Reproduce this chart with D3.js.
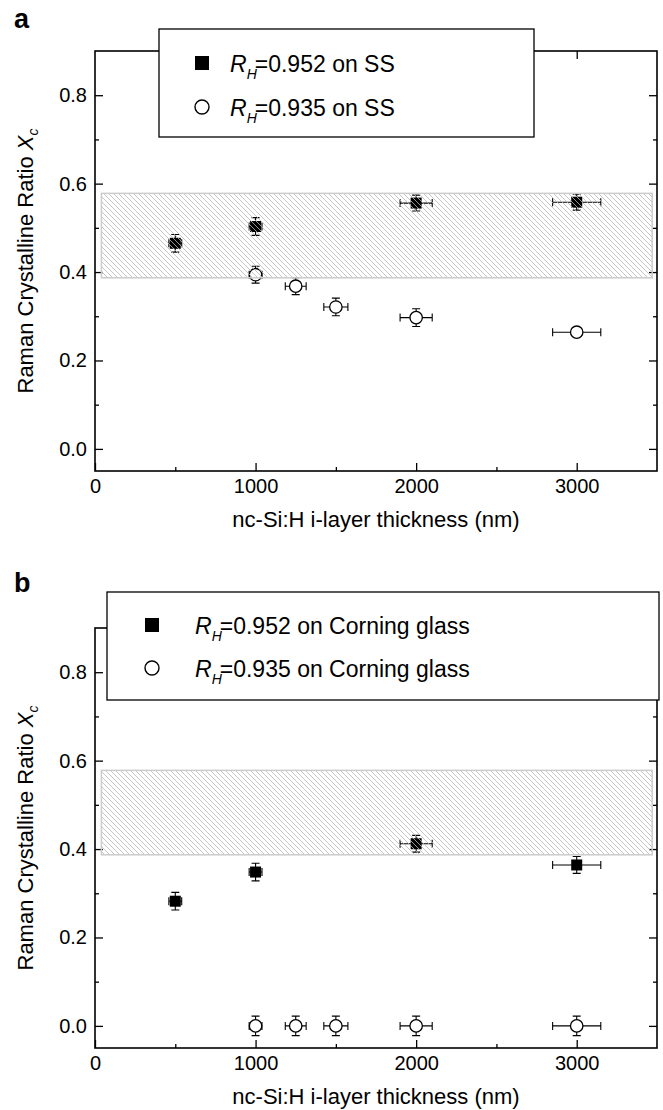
<!doctype html>
<html>
<head>
<meta charset="utf-8">
<title>Raman crystalline ratio</title>
<script src="https://d3js.org/d3.v7.min.js"></script>
<style>
  body { margin: 0; background: #fff; }
  svg text { font-family: "Liberation Sans", Arial, Helvetica, sans-serif; fill: #000; }
</style>
</head>
<body>
<script>
// panel a: stainless steel substrate
var ssHighX    = [500, 1000, 2000, 3000];
var ssHighY    = [0.465, 0.503, 0.556, 0.558];
var ssHighXErr = [40, 40, 100, 150];
var ssHighYErr = [0.02, 0.02, 0.018, 0.018];

var ssLowX    = [1000, 1250, 1500, 2000, 3000];
var ssLowY    = [0.394, 0.368, 0.321, 0.297, 0.264];
var ssLowXErr = [40, 65, 75, 100, 150];
var ssLowYErr = [0.019, 0.019, 0.02, 0.02, 0.004];

// panel b: Corning glass substrate
var cgHighX    = [500, 1000, 2000, 3000];
var cgHighY    = [0.282, 0.348, 0.412, 0.364];
var cgHighXErr = [40, 40, 100, 150];
var cgHighYErr = [0.02, 0.02, 0.019, 0.019];

var cgLowX    = [1000, 1250, 1500, 2000, 3000];
var cgLowY    = [0, 0, 0, 0, 0];
var cgLowXErr = [40, 65, 75, 100, 150];
var cgLowYErr = [0.022, 0.022, 0.022, 0.022, 0.022];

// shaded band (device-grade crystallinity window)
var bandX = [40, 3470];
var bandY = [0.387, 0.578];

var xTicks = [0, 1000, 2000, 3000];
var xMinor = [500, 1500, 2500];
var yTicks = [0, 0.2, 0.4, 0.6, 0.8];
var yMinor = [0.1, 0.3, 0.5, 0.7];

var legendA = ["0.952 on SS", "0.935 on SS"];
var legendB = ["0.952 on Corning glass", "0.935 on Corning glass"];

function zip(xs, ys, xe, ye){
  return xs.map(function(d, i){ return {x: d, y: ys[i], xe: xe[i], ye: ye[i]}; });
}

var panels = [
  {letter: "a", letterY: 28, top: 51, bottom: 471,
   filled: zip(ssHighX, ssHighY, ssHighXErr, ssHighYErr),
   open: zip(ssLowX, ssLowY, ssLowXErr, ssLowYErr),
   legend: legendA, box: [159, 29, 534, 137], mx: 202, rows: [63, 107], tx: 230},
  {letter: "b", letterY: 592, top: 628, bottom: 1048,
   filled: zip(cgHighX, cgHighY, cgHighXErr, cgHighYErr),
   open: zip(cgLowX, cgLowY, cgLowXErr, cgLowYErr),
   legend: legendB, box: [107, 592, 659, 700], mx: 152, rows: [625, 668], tx: 195}
];

var svg = d3.select("body").append("svg").attr("width", 663).attr("height", 1110);

svg.append("defs").append("pattern")
    .attr("id", "hatch")
    .attr("patternUnits", "userSpaceOnUse")
    .attr("width", 5).attr("height", 5)
  .append("path")
    .attr("d", "M0,0 l5,5 M-1,4 l2,2 M4,-1 l2,2")
    .attr("stroke", "#b8b8b8")
    .attr("stroke-width", 0.8);

var x = d3.scaleLinear().domain([0, 3500]).range([95, 657]);

panels.forEach(function(p){
  var y = d3.scaleLinear().domain([-0.05, 0.9]).range([p.bottom, p.top]);
  var g = svg.append("g");

  // axes, all ticks pointing inwards
  function clean(sel){ sel.select(".domain").remove(); sel.selectAll(".tick line").attr("stroke-width", 1.3); }
  var fmtY = d3.format(".1f");

  g.append("g").attr("transform", "translate(0," + p.bottom + ")")
    .call(d3.axisBottom(x).tickValues(xTicks).tickSizeInner(-8).tickSizeOuter(0).tickPadding(8).tickFormat(d3.format("d")))
    .call(clean);
  g.append("g").attr("transform", "translate(0," + p.bottom + ")")
    .call(d3.axisBottom(x).tickValues(xMinor).tickSizeInner(-4).tickSizeOuter(0).tickFormat(""))
    .call(clean);
  g.append("g").attr("transform", "translate(0," + p.top + ")")
    .call(d3.axisTop(x).tickValues(xTicks.slice(1)).tickSizeInner(-8).tickSizeOuter(0).tickFormat(""))
    .call(clean);
  g.append("g").attr("transform", "translate(0," + p.top + ")")
    .call(d3.axisTop(x).tickValues(xMinor).tickSizeInner(-4).tickSizeOuter(0).tickFormat(""))
    .call(clean);
  g.append("g").attr("transform", "translate(95,0)")
    .call(d3.axisLeft(y).tickValues(yTicks).tickSizeInner(-8).tickSizeOuter(0).tickPadding(8).tickFormat(fmtY))
    .call(clean);
  g.append("g").attr("transform", "translate(95,0)")
    .call(d3.axisLeft(y).tickValues(yMinor).tickSizeInner(-4).tickSizeOuter(0).tickFormat(""))
    .call(clean);
  g.append("g").attr("transform", "translate(657,0)")
    .call(d3.axisRight(y).tickValues(yTicks).tickSizeInner(-8).tickSizeOuter(0).tickFormat(""))
    .call(clean);
  g.append("g").attr("transform", "translate(657,0)")
    .call(d3.axisRight(y).tickValues(yMinor).tickSizeInner(-4).tickSizeOuter(0).tickFormat(""))
    .call(clean);
  g.selectAll(".tick text").attr("font-size", 20).attr("font-family", null);

  g.append("rect")
    .attr("x", x(0)).attr("y", p.top)
    .attr("width", x(3500) - x(0)).attr("height", p.bottom - p.top)
    .attr("fill", "none").attr("stroke", "#000").attr("stroke-width", 1.6);

  // error bars
  var all = p.filled.concat(p.open);
  var eb = g.append("g").attr("stroke", "#000").attr("stroke-width", 1.1).attr("fill", "none");
  all.forEach(function(d){
    var cx = x(d.x), cy = y(d.y);
    var x0 = x(d.x - d.xe), x1 = x(d.x + d.xe), y0 = y(d.y + d.ye), y1 = y(d.y - d.ye);
    eb.append("path").attr("d",
      "M" + x0 + "," + cy + "H" + x1 +
      "M" + x0 + "," + (cy - 4) + "V" + (cy + 4) +
      "M" + x1 + "," + (cy - 4) + "V" + (cy + 4) +
      "M" + cx + "," + y0 + "V" + y1 +
      "M" + (cx - 4) + "," + y0 + "H" + (cx + 4) +
      "M" + (cx - 4) + "," + y1 + "H" + (cx + 4));
  });

  g.selectAll(".sq").data(p.filled).enter().append("rect")
    .attr("class", "sq")
    .attr("x", function(d){ return x(d.x) - 5.5; })
    .attr("y", function(d){ return y(d.y) - 5.5; })
    .attr("width", 11).attr("height", 11)
    .attr("fill", "#000");

  g.selectAll(".ci").data(p.open).enter().append("circle")
    .attr("class", "ci")
    .attr("cx", function(d){ return x(d.x); })
    .attr("cy", function(d){ return y(d.y); })
    .attr("r", 6.2)
    .attr("fill", "#fff").attr("stroke", "#000").attr("stroke-width", 1.3);

  // hatched band sits on top of the markers
  g.append("rect")
    .attr("x", x(bandX[0])).attr("y", y(bandY[1]))
    .attr("width", x(bandX[1]) - x(bandX[0]))
    .attr("height", y(bandY[0]) - y(bandY[1]))
    .attr("fill", "url(#hatch)")
    .attr("stroke", "#cccccc").attr("stroke-width", 1.5);

  // legend
  var b = p.box;
  g.append("rect")
    .attr("x", b[0]).attr("y", b[1]).attr("width", b[2] - b[0]).attr("height", b[3] - b[1])
    .attr("fill", "#fff").attr("stroke", "#000").attr("stroke-width", 1.3);
  g.append("rect").attr("x", p.mx - 7).attr("y", p.rows[0] - 7).attr("width", 14).attr("height", 14).attr("fill", "#000");
  g.append("circle").attr("cx", p.mx).attr("cy", p.rows[1]).attr("r", 7)
    .attr("fill", "#fff").attr("stroke", "#000").attr("stroke-width", 1.4);
  p.legend.forEach(function(s, i){
    var t = g.append("text").attr("x", p.tx).attr("y", p.rows[i] + 9).attr("font-size", 23);
    t.append("tspan").attr("font-style", "italic").text("R");
    t.append("tspan").attr("font-style", "italic").attr("font-size", 14).attr("dy", 7).text("H");
    t.append("tspan").attr("dy", -7).attr("dx", -2).text("=" + s);
  });

  // panel letter
  svg.append("text").attr("x", 14).attr("y", p.letterY)
    .attr("font-size", 27).attr("font-weight", "bold").text(p.letter);

  // axis titles
  var mid = (p.top + p.bottom) / 2;
  var yl = svg.append("text")
    .attr("transform", "translate(33," + mid + ") rotate(-90)")
    .attr("text-anchor", "middle").attr("font-size", 22);
  yl.append("tspan").text("Raman Crystalline Ratio ");
  yl.append("tspan").attr("font-style", "italic").text("X");
  yl.append("tspan").attr("font-style", "italic").attr("font-size", 14).attr("dy", 5).text("c");

  svg.append("text")
    .attr("x", (x(0) + x(3500)) / 2).attr("y", p.bottom + 56)
    .attr("text-anchor", "middle").attr("font-size", 22)
    .text("nc-Si:H i-layer thickness (nm)");
});
</script>
</body>
</html>
